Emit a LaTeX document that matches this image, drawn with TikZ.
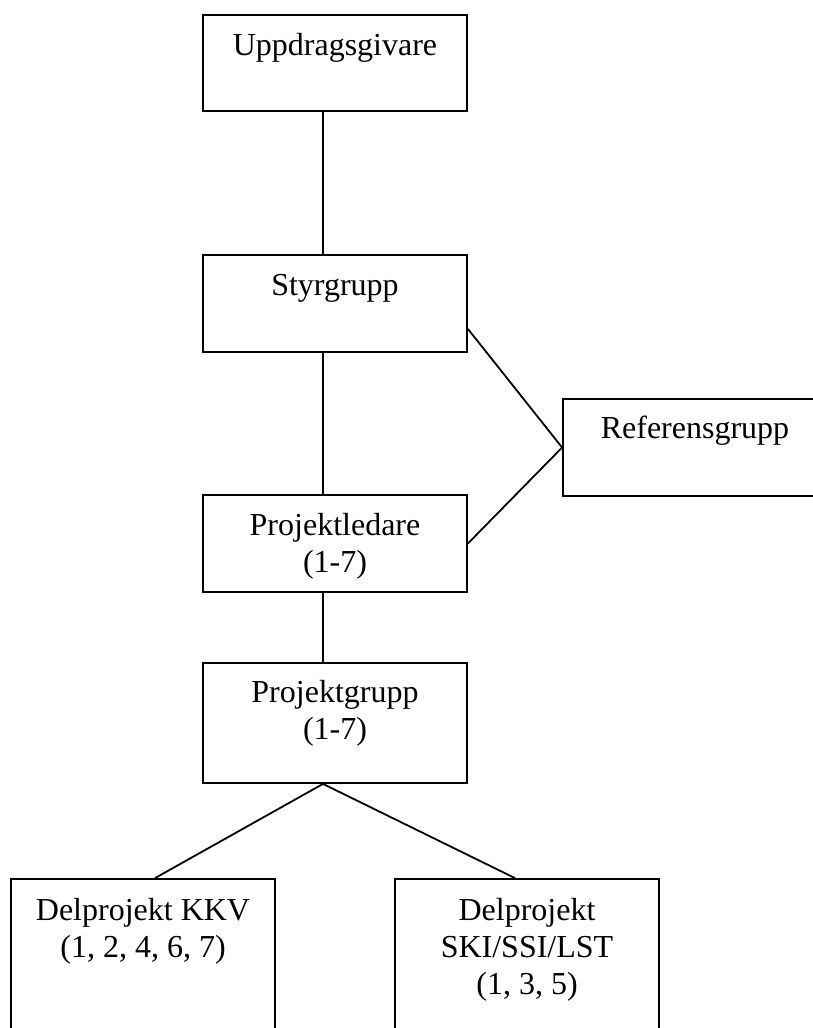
\documentclass[tikz,border=0pt]{standalone}
\usepackage{fontspec}
\setmainfont{Liberation Serif}
\usetikzlibrary{calc}
\tikzset{
  orgbox/.style={draw=black, line width=1.8pt, rectangle, minimum width=264pt, inner sep=0pt, fill=white},
  txt/.style={anchor=base, inner sep=0pt, font=\fontsize{32}{37}\selectfont},
  link/.style={draw=black, line width=1.8pt}
}
\begin{document}
\begin{tikzpicture}[x=1pt,y=-1pt]
\useasboundingbox (0,0) rectangle (813,1028);
\clip (0,0) rectangle (813,1028);
\fill[white] (0,0) rectangle (813,1028);
\coordinate (axis) at (323,0);
% boxes
\node[orgbox, minimum height=96pt] (u) at (335,63) {};
\node[orgbox, minimum height=97pt] (s) at (335,303.5) {};
\node[orgbox, minimum height=97pt] (pl) at (335,543.5) {};
\node[orgbox, minimum height=120pt] (pg) at (335,723) {};
\node[orgbox, minimum height=97pt] (r) at (695,447.5) {};
\node[orgbox, minimum height=160pt] (k) at (143,959) {};
\node[orgbox, minimum height=160pt] (ski) at (527,959) {};
% texts
\node[txt] (tu) at (335,55) {Uppdragsgivare};
\node[txt] (ts) at (335,295) {Styrgrupp};
\node[txt] (tr) at (695,438) {Referensgrupp};
\node[txt] (tpl1) at (335,535) {Projektledare};
\node[txt] (tpl2) at (335,572) {(1-7)};
\node[txt] (tpg1) at (335,702) {Projektgrupp};
\node[txt] (tpg2) at (335,739) {(1-7)};
\node[txt] (tk1) at (143,920) {Delprojekt KKV};
\node[txt] (tk2) at (143,957) {(1, 2, 4, 6, 7)};
\node[txt] (tski1) at (527,920) {Delprojekt};
\node[txt] (tski2) at (527,957) {SKI/SSI/LST};
\node[txt] (tski3) at (527,994) {(1, 3, 5)};
% connectors
\draw[link] (u.south -| axis) -- (s.north -| axis);
\draw[link] (s.south -| axis) -- (pl.north -| axis);
\draw[link] (pl.south -| axis) -- (pg.north -| axis);
\draw[link] ($(s.south east)+(0,-24)$) -- (r.west);
\draw[link] (pl.east) -- (r.west);
\draw[link] (pg.south -| axis) -- ($(k.north)+(12,0)$);
\draw[link] (pg.south -| axis) -- ($(ski.north)+(-12,0)$);
\end{tikzpicture}
\end{document}
